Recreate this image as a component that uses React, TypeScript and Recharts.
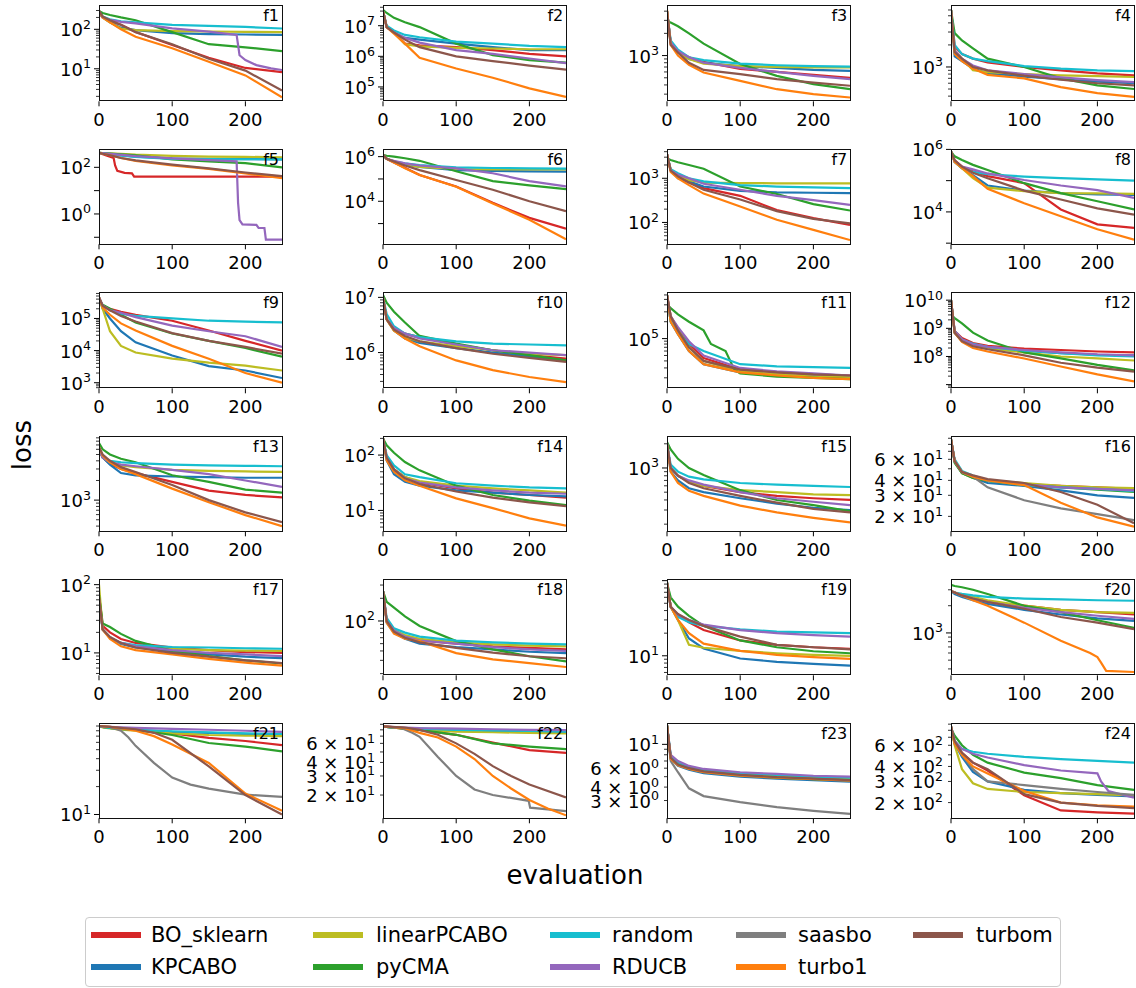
import React from 'react';
import { LineChart, Line, XAxis, YAxis } from 'recharts';

const GRID = [0, 5, 15, 30, 50, 100, 150, 200, 250];
const METHODS = ['BO_sklearn', 'KPCABO', 'linearPCABO', 'pyCMA', 'random', 'RDUCB', 'saasbo', 'turbo1', 'turbom'];
const COLORS = ['#d62728', '#1f77b4', '#bcbd22', '#2ca02c', '#17becf', '#9467bd', '#7f7f7f', '#ff7f0e', '#8c564b'];
const X_TICKS = [0, 100, 200];

type V = number[] | [number, number][];

const F1: Record<string, V> = {
  BO_sklearn: [280, 210, 160, 130, 85, 40, 19, 10.5, 8.2],
  KPCABO: [280, 200, 150, 110, 95, 80, 76, 74, 72],
  linearPCABO: [280, 200, 150, 105, 95, 90, 88, 86, 85],
  pyCMA: [290, 260, 230, 200, 170, 85, 42, 35, 28],
  random: [280, 210, 180, 160, 150, 130, 122, 115, 105],
  RDUCB: [[0, 250], [5, 200], [15, 175], [30, 155], [50, 142], [100, 106], [150, 87], [188, 72], [190, 40], [192, 22], [200, 16.6], [215, 12.4], [235, 10.2], [250, 9.3]],
  turbo1: [280, 200, 150, 100, 65, 33, 15, 6.8, 1.9],
  turbom: [300, 210, 170, 130, 85, 42, 18, 9, 2.8],
};
const F2: Record<string, V> = {
  BO_sklearn: [3e7, 9e6, 6e6, 2.6e6, 2.3e6, 2e6, 1.6e6, 1.2e6, 1e6],
  KPCABO: [3e7, 9e6, 6e6, 4e6, 3.5e6, 2.6e6, 2e6, 1.6e6, 1.6e6],
  linearPCABO: [3e7, 9e6, 6e6, 2.5e6, 2.1e6, 1.9e6, 1.8e6, 1.7e6, 1.7e6],
  pyCMA: [3.3e7, 2.6e7, 1.8e7, 1.3e7, 9e6, 2.6e6, 1.1e6, 7.5e5, 6.2e5],
  random: [3e7, 1e7, 7e6, 5e6, 4.2e6, 3e6, 2.6e6, 2.2e6, 2e6],
  RDUCB: [3e7, 9e6, 6e6, 4e6, 2.8e6, 1.6e6, 1.2e6, 8.5e5, 6e5],
  turbo1: [3e7, 9e6, 5.5e6, 2.6e6, 9e5, 4e5, 2e5, 9e4, 4.7e4],
  turbom: [3e7, 9e6, 6e6, 3.5e6, 2e6, 1e6, 7e5, 5e5, 3.7e5],
};
const F3: Record<string, V> = {
  BO_sklearn: [4000, 1500, 1100, 950, 820, 660, 600, 550, 500],
  KPCABO: [4000, 1500, 1100, 900, 800, 720, 680, 640, 620],
  linearPCABO: [4000, 1500, 1100, 900, 780, 720, 700, 690, 690],
  pyCMA: [3000, 2800, 2500, 2000, 1450, 770, 530, 410, 350],
  random: [4000, 1600, 1200, 950, 870, 780, 740, 720, 710],
  RDUCB: [4000, 1500, 1150, 950, 800, 680, 600, 530, 480],
  turbo1: [4200, 1400, 1000, 750, 590, 455, 350, 300, 270],
  turbom: [4000, 1400, 1100, 800, 640, 560, 480, 430, 390],
};
const F4: Record<string, V> = {
  BO_sklearn: [6000, 1900, 1500, 1300, 1150, 1000, 900, 820, 770],
  KPCABO: [6000, 1400, 1200, 950, 820, 740, 680, 630, 600],
  linearPCABO: [6000, 1700, 1300, 900, 850, 800, 770, 750, 730],
  pyCMA: [6000, 2900, 2300, 1800, 1300, 1000, 700, 560, 500],
  random: [6000, 2000, 1500, 1300, 1200, 1030, 950, 900, 880],
  RDUCB: [6000, 1700, 1300, 1050, 900, 800, 720, 660, 620],
  turbo1: [6000, 1500, 1200, 950, 780, 700, 530, 440, 390],
  turbom: [6000, 1600, 1300, 1000, 900, 760, 670, 600, 560],
};
const F5: Record<string, V> = {
  BO_sklearn: [[0, 420], [10, 320], [20, 250], [22, 120], [25, 70], [35, 58], [45, 55], [48, 40], [250, 40]],
  KPCABO: [420, 400, 370, 330, 290, 240, 230, 225, 220],
  linearPCABO: [420, 410, 400, 380, 350, 310, 290, 280, 270],
  pyCMA: [420, 410, 390, 360, 330, 220, 180, 150, 100],
  random: [420, 400, 370, 320, 280, 230, 225, 222, 220],
  RDUCB: [[0, 420], [50, 300], [100, 240], [188, 180], [190, 3], [192, 0.55], [196, 0.36], [215, 0.34], [218, 0.25], [226, 0.25], [228, 0.08], [250, 0.08]],
  turbo1: [420, 380, 330, 250, 190, 120, 85, 55, 34],
  turbom: [420, 380, 330, 250, 200, 130, 90, 60, 42],
};
const F6: Record<string, V> = {
  BO_sklearn: [1.2e6, 8e5, 5.5e5, 3.2e5, 1.5e5, 4.6e4, 8.5e3, 1.8e3, 590],
  KPCABO: [1.2e6, 8e5, 6e5, 4.5e5, 3.5e5, 2.5e5, 2.3e5, 2.2e5, 2.15e5],
  linearPCABO: [1.2e6, 8e5, 6e5, 4.5e5, 3.5e5, 2.8e5, 2.7e5, 2.7e5, 2.7e5],
  pyCMA: [1.2e6, 1.1e6, 1e6, 8.5e5, 6.5e5, 2.2e5, 8e4, 5.2e4, 3.5e4],
  random: [1.2e6, 8e5, 6e5, 5e5, 4.2e5, 3.3e5, 3.1e5, 3e5, 2.9e5],
  RDUCB: [1.2e6, 8e5, 6.5e5, 5e5, 4e5, 3e5, 1.8e5, 8e4, 4.6e4],
  turbo1: [1.2e6, 8e5, 5.5e5, 3e5, 1.5e5, 4.5e4, 8e3, 1.5e3, 200],
  turbom: [1.2e6, 8e5, 6e5, 4e5, 2.5e5, 9e4, 3.3e4, 1e4, 3.6e3],
};
const F7: Record<string, V> = {
  BO_sklearn: [3500, 1500, 1100, 800, 600, 400, 190, 125, 88],
  KPCABO: [3500, 1500, 1000, 850, 650, 520, 480, 470, 460],
  linearPCABO: [3500, 1600, 1200, 900, 800, 780, 770, 770, 770],
  pyCMA: [2800, 2600, 2300, 2000, 1650, 650, 440, 260, 186],
  random: [3500, 1600, 1300, 1000, 850, 700, 650, 620, 600],
  RDUCB: [3500, 1500, 1200, 1000, 750, 550, 400, 320, 250],
  turbo1: [3500, 1400, 1000, 700, 450, 230, 115, 68, 40],
  turbom: [3500, 1500, 1100, 800, 550, 330, 180, 120, 95],
};
const F8: Record<string, V> = {
  BO_sklearn: [8.5e5, 4.5e5, 2.8e5, 2e5, 1.4e5, 8.3e4, 1.2e4, 4e3, 3.1e3],
  KPCABO: [8.5e5, 4e5, 2.5e5, 1.5e5, 7e4, 4.8e4, 4e4, 3.6e4, 3.5e4],
  linearPCABO: [8.5e5, 4e5, 2.5e5, 1.2e5, 6e4, 4.6e4, 4e4, 3.9e4, 3.8e4],
  pyCMA: [8.5e5, 6e5, 4.6e5, 3.2e5, 2.2e5, 8.3e4, 4e4, 2.2e4, 1.2e4],
  random: [8.5e5, 4e5, 2.5e5, 1.9e5, 1.6e5, 1.35e5, 1.2e5, 1.1e5, 1e5],
  RDUCB: [8.5e5, 4e5, 2.8e5, 2.3e5, 1.7e5, 1.05e5, 7e4, 5e4, 2.8e4],
  turbo1: [8.5e5, 4e5, 2.5e5, 1.4e5, 5.5e4, 1.9e4, 7.3e3, 2.8e3, 1.3e3],
  turbom: [8.5e5, 4.5e5, 2.8e5, 1.8e5, 1.2e5, 4.8e4, 2.5e4, 1.3e4, 8.2e3],
};
const F9: Record<string, V> = {
  BO_sklearn: [4.5e5, 2.5e5, 2e5, 1.6e5, 1.3e5, 8.5e4, 4.2e4, 2e4, 1e4],
  KPCABO: [4.5e5, 2e5, 1e5, 4e4, 1.8e4, 7e3, 3.3e3, 2.4e3, 1.4e3],
  linearPCABO: [4.5e5, 2e5, 4e4, 1.4e4, 8.7e3, 5.6e3, 4.2e3, 3.4e3, 2.4e3],
  pyCMA: [3.5e5, 2.7e5, 2e5, 1.3e5, 7.5e4, 3.4e4, 2e4, 1.2e4, 6.5e3],
  random: [4.5e5, 2.5e5, 1.8e5, 1.4e5, 1.2e5, 1e5, 8.5e4, 8e4, 7.5e4],
  RDUCB: [4.5e5, 2.5e5, 1.8e5, 1.5e5, 1.1e5, 6e4, 4e4, 2.8e4, 1.3e4],
  turbo1: [4.5e5, 2.2e5, 1.3e5, 7e4, 4.2e4, 1.4e4, 5.6e3, 2e3, 1e3],
  turbom: [4.5e5, 2.5e5, 1.8e5, 1.2e5, 8e4, 3.5e4, 2e4, 1.3e4, 8e3],
};
const F10: Record<string, V> = {
  BO_sklearn: [1e7, 4e6, 2.8e6, 2.2e6, 1.9e6, 1.4e6, 1.1e6, 9e5, 7.8e5],
  KPCABO: [1e7, 4e6, 2.5e6, 1.8e6, 1.5e6, 1.2e6, 1e6, 8.5e5, 7.2e5],
  linearPCABO: [1e7, 4e6, 2.5e6, 1.9e6, 1.6e6, 1.3e6, 1.1e6, 9.5e5, 9e5],
  pyCMA: [1.1e7, 8e6, 5.5e6, 3.5e6, 2e6, 1.45e6, 1.1e6, 9e5, 7.2e5],
  random: [1e7, 5e6, 3e6, 2.2e6, 1.9e6, 1.6e6, 1.45e6, 1.4e6, 1.35e6],
  RDUCB: [1e7, 4e6, 2.8e6, 2.2e6, 1.8e6, 1.4e6, 1.1e6, 1e6, 9e5],
  turbo1: [1e7, 4e6, 2.5e6, 1.8e6, 1.3e6, 7.2e5, 4.8e5, 3.6e5, 2.9e5],
  turbom: [1e7, 4e6, 2.6e6, 2e6, 1.6e6, 1.2e6, 9.5e5, 8e5, 6.8e5],
};
const F11: Record<string, V> = {
  BO_sklearn: [6e5, 2.5e5, 1.5e5, 8e4, 4.5e4, 2.8e4, 2.5e4, 2.3e4, 2.2e4],
  KPCABO: [6e5, 2e5, 1.2e5, 6e4, 3.5e4, 2.5e4, 2.2e4, 2.1e4, 2e4],
  linearPCABO: [6e5, 2.5e5, 1.5e5, 7e4, 4e4, 2.6e4, 2.3e4, 2.1e4, 2.05e4],
  pyCMA: [[0, 4e5], [5, 3.5e5], [15, 2.7e5], [30, 2e5], [50, 1.4e5], [60, 8e4], [80, 6e4], [92, 2.8e4], [100, 2.4e4], [150, 2.1e4], [200, 2e4], [250, 1.9e4]],
  random: [6e5, 2e5, 1.3e5, 8e4, 6e4, 3.5e4, 3.2e4, 3.1e4, 3e4],
  RDUCB: [6e5, 2.5e5, 1.6e5, 9e4, 5e4, 3e4, 2.6e4, 2.4e4, 2.2e4],
  turbo1: [6e5, 2e5, 1.2e5, 6e4, 3.5e4, 2.5e4, 2.2e4, 2e4, 1.9e4],
  turbom: [6e5, 2.5e5, 1.4e5, 7e4, 4e4, 2.8e4, 2.5e4, 2.3e4, 2.2e4],
};
const F12: Record<string, V> = {
  BO_sklearn: [1e10, 8e8, 4.5e8, 3e8, 2.4e8, 1.9e8, 1.7e8, 1.5e8, 1.4e8],
  KPCABO: [1e10, 7e8, 3.8e8, 2.5e8, 2e8, 1.6e8, 1.3e8, 1.15e8, 1.1e8],
  linearPCABO: [1e10, 7e8, 3.5e8, 2.4e8, 1.9e8, 1.4e8, 1e8, 8.5e7, 7.2e7],
  pyCMA: [3e9, 2.3e9, 1.5e9, 7e8, 3.7e8, 1.4e8, 8.5e7, 5e7, 3.2e7],
  random: [1e10, 8e8, 4e8, 2.8e8, 2.2e8, 1.6e8, 1.3e8, 1.1e8, 1e8],
  RDUCB: [1e10, 8e8, 4e8, 2.7e8, 2.2e8, 1.7e8, 1.4e8, 1.2e8, 1.1e8],
  turbo1: [1e10, 7e8, 3.3e8, 2e8, 1.5e8, 8.5e7, 4.4e7, 2.3e7, 1.3e7],
  turbom: [1e10, 7e8, 3.5e8, 2.3e8, 1.8e8, 1.1e8, 6e7, 4e7, 2.9e7],
};
const F13: Record<string, V> = {
  BO_sklearn: [6e3, 4.5e3, 3.6e3, 3e3, 2.6e3, 1.9e3, 1.4e3, 1.2e3, 1.1e3],
  KPCABO: [6e3, 4.5e3, 3.5e3, 2.6e3, 2.4e3, 2.3e3, 2.25e3, 2.2e3, 2.2e3],
  linearPCABO: [6e3, 4.5e3, 3.8e3, 3.4e3, 3.2e3, 2.9e3, 2.8e3, 2.75e3, 2.7e3],
  pyCMA: [7.5e3, 6e3, 5e3, 4.3e3, 3.8e3, 2.4e3, 1.9e3, 1.45e3, 1.3e3],
  random: [6e3, 4.5e3, 4e3, 3.8e3, 3.7e3, 3.5e3, 3.4e3, 3.35e3, 3.3e3],
  RDUCB: [6e3, 4.5e3, 3.8e3, 3.5e3, 3.3e3, 2.9e3, 2.5e3, 2e3, 1.6e3],
  turbo1: [6.5e3, 4.8e3, 3.8e3, 3e3, 2.5e3, 1.5e3, 930, 590, 400],
  turbom: [6.5e3, 5e3, 4e3, 3.2e3, 2.7e3, 1.7e3, 1e3, 650, 460],
};
const F14: Record<string, V> = {
  BO_sklearn: [200, 90, 55, 40, 32, 25, 21, 19, 17],
  KPCABO: [200, 80, 45, 33, 28, 23, 21, 19, 18],
  linearPCABO: [200, 90, 55, 40, 34, 28, 25, 23, 21],
  pyCMA: [200, 150, 110, 75, 53, 28, 19, 15, 12.5],
  random: [200, 100, 65, 45, 40, 31, 28, 26, 25],
  RDUCB: [200, 90, 55, 38, 32, 26, 23, 21, 20],
  turbo1: [200, 80, 50, 35, 28, 16.5, 11, 7.2, 5.3],
  turbom: [200, 90, 55, 38, 30, 22, 17, 14, 12],
};
const F15: Record<string, V> = {
  BO_sklearn: [2e3, 1e3, 800, 680, 600, 500, 450, 420, 400],
  KPCABO: [2e3, 900, 700, 560, 500, 420, 360, 320, 300],
  linearPCABO: [2e3, 1e3, 800, 680, 600, 530, 500, 470, 460],
  pyCMA: [2.1e3, 1.7e3, 1.3e3, 1e3, 820, 530, 400, 345, 290],
  random: [2e3, 1.1e3, 900, 780, 720, 650, 620, 600, 580],
  RDUCB: [2e3, 1e3, 800, 700, 620, 500, 420, 380, 345],
  turbo1: [2e3, 900, 650, 520, 450, 340, 280, 240, 210],
  turbom: [2e3, 1e3, 800, 650, 560, 450, 370, 310, 280],
};
const F16: Record<string, V> = {
  BO_sklearn: [88, 58, 47, 43, 40, 37, 36, 35, 34],
  KPCABO: [88, 57, 46, 42, 38, 36, 33, 30, 28.5],
  linearPCABO: [88, 58, 46, 42, 40, 38, 36, 35, 34.5],
  pyCMA: [88, 56, 46, 42, 39.5, 36.5, 35, 33.5, 32],
  random: [88, 60, 48, 44, 40, 36.5, 35, 34, 32.5],
  RDUCB: [88, 58, 47, 43, 40, 37, 35, 34, 33],
  saasbo: [88, 58, 47, 43, 35, 27.3, 23.3, 20.9, 18.6],
  turbo1: [88, 58, 47, 43, 40, 36.5, 26, 19.6, 16.4],
  turbom: [88, 58, 47, 44, 41, 38, 32, 25, 17.5],
};
const F17: Record<string, V> = {
  BO_sklearn: [70, 25, 20, 16, 14, 12, 11, 10.3, 10],
  KPCABO: [60, 22, 17, 13.5, 12, 10.5, 9.5, 8.8, 8.4],
  linearPCABO: [100, 22, 17, 14, 12.5, 11.5, 11, 10.8, 10.7],
  pyCMA: [70, 27, 24, 19, 15, 10.7, 9, 7.8, 7],
  random: [60, 22, 17, 14, 13, 12.2, 12, 11.7, 11.5],
  RDUCB: [60, 22, 17, 14, 12.5, 11, 10, 9.5, 9],
  turbo1: [65, 22, 16, 12.5, 11, 9.5, 8.2, 7.2, 6.5],
  turbom: [65, 22, 17, 14, 12, 10, 8.8, 7.8, 7.1],
};
const F18: Record<string, V> = {
  BO_sklearn: [250, 100, 75, 62, 55, 50, 46, 44, 42],
  KPCABO: [250, 95, 70, 58, 50, 45, 42, 39, 37.5],
  linearPCABO: [250, 100, 75, 65, 58, 52, 49, 47, 46],
  pyCMA: [250, 180, 150, 115, 86, 54, 42, 34, 29],
  random: [250, 110, 80, 70, 62, 55, 52, 50, 49],
  RDUCB: [250, 100, 75, 62, 55, 50, 45, 42, 40],
  turbo1: [250, 95, 68, 58, 54, 37.5, 31, 27.5, 24.5],
  turbom: [250, 100, 72, 60, 52, 44, 38, 34, 32],
};
const F19: Record<string, V> = {
  BO_sklearn: [94, 45, 35, 28, 22, 16, 14, 13, 12.4],
  KPCABO: [94, 45, 30, 17, 12.5, 9.2, 8.3, 7.8, 7.4],
  linearPCABO: [94, 45, 30, 14, 12.8, 11.6, 10.8, 10.3, 10],
  pyCMA: [94, 60, 45, 34, 25, 16, 13, 11.5, 10.8],
  random: [94, 45, 33, 28, 25, 22.5, 21, 20.5, 20],
  RDUCB: [94, 45, 35, 30, 26, 22, 20, 18.8, 18],
  turbo1: [94, 45, 30, 20, 14.5, 11.6, 10.3, 9.6, 9.1],
  turbom: [94, 45, 36, 30, 25, 18, 14, 13, 12.2],
};
const F20: Record<string, V> = {
  BO_sklearn: [2.9e3, 2.8e3, 2.6e3, 2.4e3, 2.2e3, 2e3, 1.8e3, 1.7e3, 1.6e3],
  KPCABO: [2.9e3, 2.7e3, 2.5e3, 2.3e3, 2.1e3, 1.8e3, 1.6e3, 1.45e3, 1.36e3],
  linearPCABO: [2.9e3, 2.8e3, 2.6e3, 2.5e3, 2.3e3, 2e3, 1.8e3, 1.7e3, 1.67e3],
  pyCMA: [3.4e3, 3.3e3, 3.2e3, 3e3, 2.7e3, 2e3, 1.7e3, 1.38e3, 1.14e3],
  random: [2.9e3, 2.8e3, 2.7e3, 2.6e3, 2.5e3, 2.4e3, 2.35e3, 2.3e3, 2.27e3],
  RDUCB: [2.9e3, 2.8e3, 2.6e3, 2.4e3, 2.2e3, 1.9e3, 1.7e3, 1.55e3, 1.43e3],
  turbo1: [[0, 2900], [5, 2800], [15, 2600], [30, 2300], [50, 2000], [100, 1300], [150, 820], [190, 600], [200, 540], [205, 470], [212, 380], [250, 370]],
  turbom: [2.9e3, 2.8e3, 2.6e3, 2.4e3, 2.2e3, 1.85e3, 1.5e3, 1.3e3, 1.1e3],
};
const F21: Record<string, V> = {
  BO_sklearn: [90, 88, 86, 84, 82, 75, 67, 62, 56],
  KPCABO: [90, 88, 86, 84, 82, 78, 76, 74, 73],
  linearPCABO: [90, 87, 85, 82, 80, 75, 72, 71, 70],
  pyCMA: [90, 88, 86, 84, 82, 72, 59, 54, 48],
  random: [90, 88, 86, 84, 82, 79, 77, 75, 74],
  RDUCB: [90, 89, 88, 87, 86, 84, 82, 80, 78],
  saasbo: [[0, 90], [15, 88], [30, 80], [40, 68], [50, 55], [75, 36], [100, 25], [125, 21], [150, 19], [200, 16.4], [250, 15.5]],
  turbo1: [[0, 90], [15, 88], [30, 85], [50, 80], [75, 70], [100, 57], [150, 36], [200, 16.8], [250, 11]],
  turbom: [[0, 90], [15, 88], [30, 86], [50, 83], [75, 76], [100, 64], [150, 33], [200, 16.2], [250, 10]],
};
const F22: Record<string, V> = {
  BO_sklearn: [86, 85, 84, 82, 80, 72, 61, 52, 49],
  KPCABO: [86, 85, 84, 83, 82, 79, 77, 76, 75],
  linearPCABO: [86, 85, 84, 82, 80, 77, 76, 75, 74],
  pyCMA: [86, 85, 84, 82, 80, 72, 60, 56, 53],
  random: [86, 85, 84, 83, 82, 80, 79, 78, 77],
  RDUCB: [86, 86, 85, 84, 83, 82, 81, 80, 79.5],
  saasbo: [[0, 86], [25, 83], [40, 75], [50, 69], [75, 45], [100, 30], [125, 22.5], [150, 20], [199, 17.7], [201, 15.3], [250, 14.2]],
  turbo1: [[0, 86], [30, 83], [50, 75], [75, 68], [100, 56], [125, 43], [150, 30], [175, 23], [200, 18], [225, 15], [250, 13]],
  turbom: [[0, 86], [30, 84], [50, 80], [75, 72], [100, 60], [125, 48], [150, 37], [175, 30], [200, 25], [250, 19]],
};
const F23: Record<string, V> = {
  BO_sklearn: [15, 7.5, 6.6, 6.0, 5.6, 5.2, 5.0, 4.85, 4.75],
  KPCABO: [15, 7.3, 6.3, 5.8, 5.4, 5.0, 4.8, 4.65, 4.5],
  linearPCABO: [15, 7.5, 6.6, 6.1, 5.7, 5.3, 5.1, 5.0, 4.85],
  pyCMA: [15, 7.8, 6.8, 6.2, 5.7, 5.2, 4.9, 4.75, 4.65],
  random: [15, 7.8, 6.8, 6.2, 5.8, 5.4, 5.2, 5.0, 4.9],
  RDUCB: [15, 8, 7, 6.3, 5.9, 5.5, 5.3, 5.1, 5.0],
  saasbo: [15, 7, 5.5, 3.9, 3.3, 2.9, 2.6, 2.4, 2.25],
  turbo1: [15, 7.3, 6.4, 5.9, 5.5, 5.1, 4.9, 4.75, 4.6],
  turbom: [15, 7.5, 6.5, 6.0, 5.6, 5.2, 4.95, 4.8, 4.65],
};
const F24: Record<string, V> = {
  BO_sklearn: [860, 620, 520, 430, 370, 230, 172, 166, 162],
  KPCABO: [860, 620, 480, 360, 300, 255, 240, 232, 225],
  linearPCABO: [860, 600, 380, 290, 260, 245, 240, 235, 230],
  pyCMA: [830, 720, 600, 500, 430, 355, 320, 280, 255],
  random: [860, 650, 560, 530, 510, 480, 460, 445, 430],
  RDUCB: [[0, 860], [5, 650], [15, 560], [30, 510], [50, 475], [100, 410], [150, 370], [200, 350], [205, 300], [215, 250], [250, 220]],
  saasbo: [860, 620, 500, 380, 300, 280, 260, 245, 232],
  turbo1: [860, 620, 500, 400, 350, 250, 200, 190, 185],
  turbom: [860, 650, 520, 430, 380, 235, 200, 188, 180],
};

// [mantissa, exponent] labelled y ticks per panel
const PANELS = [
  { name: 'f1', data: F1, domain: [1.5, 390], labels: [[1, 2], [1, 1]] },
  { name: 'f2', data: F2, domain: [3.4e4, 4.4e7], labels: [[1, 7], [1, 6], [1, 5]] },
  { name: 'f3', data: F3, domain: [240, 4700], labels: [[1, 3]] },
  { name: 'f4', data: F4, domain: [340, 6800], labels: [[1, 3]] },
  { name: 'f5', data: F5, domain: [0.05, 610], labels: [[1, 2], [1, 0]], decadeOnly: true },
  { name: 'f6', data: F6, domain: [118, 2.2e6], labels: [[1, 6], [1, 4]], decadeOnly: true },
  { name: 'f7', data: F7, domain: [32, 4600], labels: [[1, 3], [1, 2]] },
  { name: 'f8', data: F8, domain: [920, 1.03e6], labels: [[1, 6], [1, 4]], decadeOnly: true },
  { name: 'f9', data: F9, domain: [670, 6.2e5], labels: [[1, 5], [1, 4], [1, 3]] },
  { name: 'f10', data: F10, domain: [2.25e5, 1.2e7], labels: [[1, 7], [1, 6]] },
  { name: 'f11', data: F11, domain: [1.3e4, 6.5e5], labels: [[1, 5]] },
  { name: 'f12', data: F12, domain: [7.4e6, 1.8e10], labels: [[1, 10], [1, 9], [1, 8]] },
  { name: 'f13', data: F13, domain: [333, 9600], labels: [[1, 3]] },
  { name: 'f14', data: F14, domain: [4.2, 221], labels: [[1, 2], [1, 1]] },
  { name: 'f15', data: F15, domain: [163, 2500], labels: [[1, 3]] },
  { name: 'f16', data: F16, domain: [15, 94], labels: [[6, 1], [4, 1], [3, 1], [2, 1]] },
  { name: 'f17', data: F17, domain: [4.7, 117], labels: [[1, 2], [1, 1]] },
  { name: 'f18', data: F18, domain: [19, 350], labels: [[1, 2]] },
  { name: 'f19', data: F19, domain: [5.5, 102], labels: [[1, 1]] },
  { name: 'f20', data: F20, domain: [340, 3850], labels: [[1, 3]] },
  { name: 'f21', data: F21, domain: [9.1, 97], labels: [[1, 1]] },
  { name: 'f22', data: F22, domain: [12.2, 92.5], labels: [[6, 1], [4, 1], [3, 1], [2, 1]] },
  { name: 'f23', data: F23, domain: [2.05, 15.8], labels: [[1, 1], [6, 0], [4, 0], [3, 0]] },
  { name: 'f24', data: F24, domain: [148, 920], labels: [[6, 2], [4, 2], [3, 2], [2, 2]] },
];

const COL_LEFT = [99, 383.3, 667.3, 951];
const ROW_TOP = [5.7, 149.2, 292.7, 436.2, 579.7, 723.2];
const PW = 183;
const PH = 95.3;
const YAW = 84;
const MT = 12;
const XAH = 40;
const RM = 6;
const FONT = '"DejaVu Sans", Verdana, sans-serif';

function toPts(v: V) {
  if (typeof v[0] === 'number') return (v as number[]).map((y, i) => ({ x: GRID[i], y }));
  return (v as [number, number][]).map(([x, y]) => ({ x, y }));
}

function makeTicks(lo: number, hi: number, decadeOnly?: boolean) {
  const out: number[] = [];
  const e0 = Math.floor(Math.log10(lo));
  const e1 = Math.ceil(Math.log10(hi));
  for (let e = e0; e <= e1; e++) {
    for (let k = 1; k <= 9; k++) {
      if (decadeOnly && k > 1) continue;
      const v = k * Math.pow(10, e);
      if (v >= lo && v <= hi) out.push(v);
    }
  }
  return out;
}

function near(a: number, b: number) {
  return Math.abs(a - b) / Math.max(Math.abs(b), 1e-12) < 1e-6;
}

function makeYTick(labels: number[][]) {
  return (props: any) => {
    const { x, y, payload } = props;
    const v = payload.value;
    const e = Math.round(Math.log10(v));
    const isDecade = near(v, Math.pow(10, e));
    const lab = labels.find(([m, ex]) => near(v, m * Math.pow(10, ex)));
    return (
      <g>
        <line x1={x - (isDecade ? 5 : 3)} x2={x} y1={y} y2={y} stroke="#000" strokeWidth={isDecade ? 1 : 0.8} />
        {lab && (
          <text x={x - 8} y={y + 7} textAnchor="end" fontSize={18} fill="#000" fontFamily={FONT}>
            <tspan>{lab[0] === 1 ? '10' : `${lab[0]} \u00d7 10`}</tspan>
            <tspan dy={-7.5} fontSize={12.6}>{String(lab[1])}</tspan>
          </text>
        )}
      </g>
    );
  };
}

const XTick = (props: any) => {
  const { x, y, payload } = props;
  return (
    <g>
      <line x1={x} x2={x} y1={y} y2={y + 5} stroke="#000" strokeWidth={1} />
      <text x={x} y={y + 25} textAnchor="middle" fontSize={18} fill="#000" fontFamily={FONT}>
        {payload.value}
      </text>
    </g>
  );
};

function Panel({ p, idx }: { p: any; idx: number }) {
  const col = idx % 4;
  const row = Math.floor(idx / 4);
  const left = COL_LEFT[col];
  const top = ROW_TOP[row];
  const [lo, hi] = p.domain;
  const ticks = makeTicks(lo, hi, p.decadeOnly);
  const series = METHODS.map((m, i) => ({ m, color: COLORS[i], v: p.data[m] })).filter((s) => s.v);
  return (
    <>
      <div style={{ position: 'absolute', left: left - YAW, top: top - MT }}>
        <LineChart width={YAW + PW + RM} height={MT + PH + XAH} margin={{ top: MT, right: RM, bottom: 0, left: 0 }}>
          <XAxis
            type="number"
            dataKey="x"
            domain={[0, 250]}
            ticks={X_TICKS}
            allowDataOverflow
            interval={0}
            height={XAH}
            tickSize={0}
            tickMargin={0}
            tickLine={false}
            axisLine={false}
            tick={XTick}
          />
          <YAxis
            type="number"
            scale="log"
            domain={[lo, hi]}
            ticks={ticks}
            allowDataOverflow
            interval={0}
            width={YAW}
            tickSize={0}
            tickMargin={0}
            tickLine={false}
            axisLine={false}
            tick={makeYTick(p.labels)}
          />
          {series.map((s) => (
            <Line
              key={s.m}
              data={toPts(s.v)}
              dataKey="y"
              type="linear"
              stroke={s.color}
              strokeWidth={2.2}
              dot={false}
              activeDot={false}
              isAnimationActive={false}
            />
          ))}
        </LineChart>
      </div>
      <div
        style={{
          position: 'absolute',
          left: left - 0.5,
          top: top - 0.5,
          width: PW + 1,
          height: PH + 1,
          border: '1px solid #111',
          boxSizing: 'border-box',
          pointerEvents: 'none',
        }}
      />
      <div
        style={{
          position: 'absolute',
          left: left,
          top: top + 2.5,
          width: PW - 3,
          textAlign: 'right',
          fontSize: 16,
          lineHeight: '16px',
          fontFamily: FONT,
          color: '#000',
        }}
      >
        {p.name}
      </div>
    </>
  );
}

const LEG_COL_SW = [91, 313, 550, 736, 913];
const LEG_COL_TX = [151, 376, 612, 798, 976];
const LEG_ROW_Y = [935, 967];

export default function App() {
  return (
    <div style={{ position: 'absolute', left: 0, top: 0, width: 1136, height: 988, background: '#fff', fontFamily: FONT, overflow: 'hidden' }}>
      {PANELS.map((p, i) => (
        <Panel key={p.name} p={p} idx={i} />
      ))}
      <div
        style={{
          position: 'absolute',
          left: 22 - 40,
          top: 445 - 16,
          width: 80,
          height: 32,
          lineHeight: '32px',
          textAlign: 'center',
          fontSize: 26,
          transform: 'rotate(-90deg)',
          color: '#000',
        }}
      >
        loss
      </div>
      <div
        style={{
          position: 'absolute',
          left: 575 - 100,
          top: 875 - 16,
          width: 200,
          height: 32,
          lineHeight: '32px',
          textAlign: 'center',
          fontSize: 26,
          color: '#000',
        }}
      >
        evaluation
      </div>
      <div
        style={{
          position: 'absolute',
          left: 85,
          top: 917,
          width: 976,
          height: 70,
          border: '1px solid #cccccc',
          borderRadius: 4,
          boxSizing: 'border-box',
          background: '#fff',
        }}
      />
      {METHODS.map((m, i) => {
        const c = Math.floor(i / 2);
        const r = i % 2;
        return (
          <React.Fragment key={m}>
            <div
              style={{
                position: 'absolute',
                left: LEG_COL_SW[c],
                top: LEG_ROW_Y[r] - 3,
                width: 50,
                height: 6,
                background: COLORS[i],
              }}
            />
            <div
              style={{
                position: 'absolute',
                left: LEG_COL_TX[c],
                top: LEG_ROW_Y[r] - 14,
                height: 28,
                lineHeight: '28px',
                fontSize: 21,
                color: '#000',
                whiteSpace: 'nowrap',
              }}
            >
              {m}
            </div>
          </React.Fragment>
        );
      })}
    </div>
  );
}
